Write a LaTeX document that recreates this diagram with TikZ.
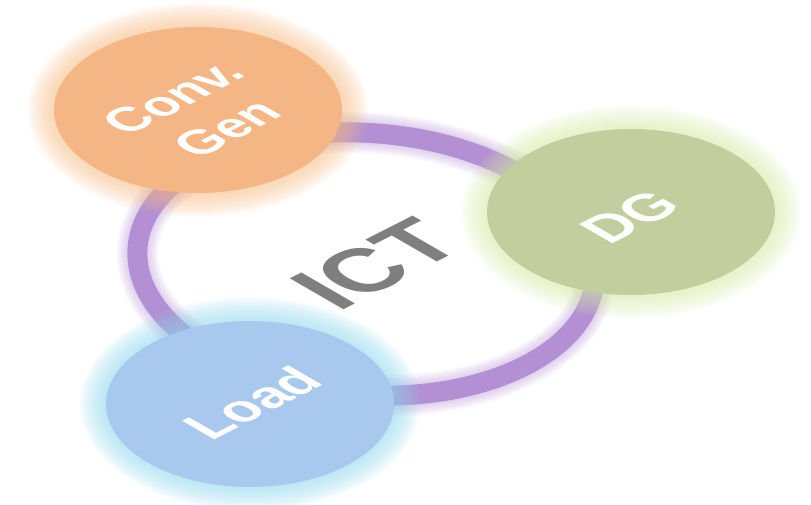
\documentclass[tikz,border=0pt]{standalone}
\usepackage{fontspec}
\setmainfont{Liberation Sans}
\usetikzlibrary{shapes.geometric}
\definecolor{convfill}{HTML}{F4B684}
\definecolor{convglow}{HTML}{F6BE88}
\definecolor{dgfill}{HTML}{C2CE9E}
\definecolor{dgglow}{HTML}{D6EAA6}
\definecolor{loadfill}{HTML}{A9C8EE}
\definecolor{loadglow}{HTML}{8FD8EE}
\definecolor{ringcol}{HTML}{B390D4}
\definecolor{ictgray}{HTML}{7F7F7F}
\begin{document}
\begin{tikzpicture}[x=1pt,y=1pt,
  blob/.style={ellipse, minimum width=288pt, minimum height=166pt, inner sep=0pt},
  tilt/.style={cm={0.891,0.454,-0.866,0.5,(0,0)}},
  lbl/.style={transform shape, text=white, align=center, inner sep=0pt},
]
\path[use as bounding box] (0,0) rectangle (811,505);

% ring of the ICT layer
\coordinate (ringc) at (366,241);
\foreach \k in {1,...,6}
  \draw[ringcol, opacity=0.08, line width={(20+3.5*\k)*1pt}, rotate around={-4:(ringc)}]
    (ringc) ellipse (229pt and 131pt);
\draw[ringcol, line width=20pt, rotate around={-4:(ringc)}]
  (ringc) ellipse (229pt and 131pt);

% the three blobs, each with a soft halo
\coordinate (convc) at (198,395);
\coordinate (dgc)   at (631,293);
\coordinate (loadc) at (250,101);
\foreach \nm/\hc in {convc/convglow, dgc/dgglow, loadc/loadglow}
  \foreach \k in {1,...,12}
    \fill[\hc, opacity=0.07] (\nm) ellipse ({144pt+2.2pt*\k} and {83pt+2pt*\k});

\node[blob, fill=convfill] (conv) at (convc) {};
\node[blob, fill=dgfill]   (dg)   at (dgc)   {};
\node[blob, fill=loadfill] (load) at (loadc) {};

% tilted labels
\begin{scope}[shift={(200,392)}, tilt]
  \node[lbl, font=\fontsize{50}{62}\selectfont\bfseries] (convlbl) {Conv.\\Gen};
\end{scope}
\begin{scope}[shift={(630,288)}, tilt]
  \node[lbl, font=\fontsize{56}{60}\selectfont\bfseries] (dglbl) {DG};
\end{scope}
\begin{scope}[shift={(252,102)}, tilt]
  \node[lbl, font=\fontsize{54}{60}\selectfont\bfseries] (loadlbl) {Load};
\end{scope}
\begin{scope}[shift={(376,241)}, tilt]
  \node[transform shape, text=ictgray, inner sep=0pt,
        font=\fontsize{90}{90}\selectfont\bfseries] (ict) {ICT};
\end{scope}
\end{tikzpicture}
\end{document}
